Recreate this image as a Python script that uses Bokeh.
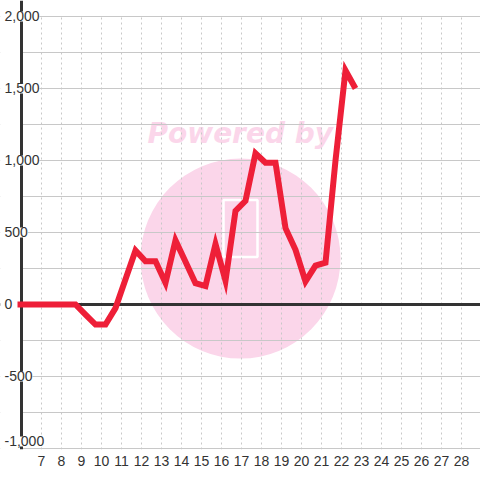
from bokeh.plotting import figure
from bokeh.models import FixedTicker, Span, Label, Range1d, BoxAnnotation
from bokeh.embed import file_html
from bokeh.resources import INLINE

# ---- data ----
x_vals = [5.8, 6.2, 6.7, 7.2, 7.7, 8.2, 8.7, 9.2, 9.7, 10.2, 10.7, 11.2, 11.7,
          12.2, 12.7, 13.2, 13.7, 14.2, 14.7, 15.2, 15.7, 16.2, 16.7, 17.2,
          17.7, 18.2, 18.7, 19.2, 19.7, 20.2, 20.7, 21.2, 21.7, 22.2, 22.7]
y_vals = [0, 0, 0, 0, 0, 0, 0, -70, -139, -139, -25, 175, 375,
          300, 300, 150, 445, 297, 148, 128, 420, 165, 650, 720,
          1050, 985, 985, 530, 380, 160, 270, 290, 1000, 1625, 1500]
x_ticks = list(range(7, 29))
y_ticks = [-1000, -500, 0, 500, 1000, 1500, 2000]
y_tick_labels = ["-1,000", "-500", "0", "500", "1,000", "1,500", "2,000"]
y_grid_ticks = [-1000, -750, -500, -250, 0, 250, 500, 750, 1000, 1250,
                1500, 1750, 2000]

FONT = "Liberation Sans"
AXIS_X = 6          # where the vertical axis sits
X0, X1 = 4.95, 28.95
Y0, Y1 = -1007.0, 2111.1

p = figure(width=480, height=480, output_backend="svg", toolbar_location=None,
           x_range=Range1d(X0, X1), y_range=Range1d(Y0, Y1),
           y_axis_location=None, min_border_left=0, min_border_right=0,
           min_border_top=0, min_border_bottom=31)
p.background_fill_color = "#ffffff"
p.border_fill_color = "#ffffff"
p.outline_line_color = None

# grids
p.xgrid.ticker = FixedTicker(ticks=x_ticks)
p.xgrid.grid_line_color = "#c8c8c8"
p.xgrid.grid_line_dash = "2 3"
p.xgrid.grid_line_width = 1
p.ygrid.ticker = FixedTicker(ticks=y_grid_ticks)
p.ygrid.grid_line_color = "#c8c8c8"
p.ygrid.grid_line_width = 1

# x axis
p.xaxis.ticker = FixedTicker(ticks=x_ticks)
p.xaxis.axis_line_color = None
p.xaxis.major_tick_line_color = None
p.xaxis.minor_tick_line_color = None
p.xaxis.major_label_standoff = 0
p.xaxis.major_label_text_font = FONT
p.xaxis.major_label_text_font_size = "14px"
p.xaxis.major_label_text_color = "#333333"

# watermark
p.scatter(x=[16.95], y=[319], size=200, marker="circle",
          fill_color="#fbd6ea", line_color=None, level="image")
p.rect(x=[16.95], y=[528], width=1.7, height=396, fill_color=None,
       line_color="#ffffff", line_width=2.5, level="image")
wm = Label(x=12.3, y=1072, text="Powered by", text_font="DejaVu Sans",
           text_font_style="bold italic", text_font_size="28px",
           text_color="#fbd6ea", level="image")
p.add_layout(wm)

# zero line
p.add_layout(Span(location=0, dimension="width", line_color="#333333",
                  line_width=3, level="underlay"))
# blank out the area left of the axis and above the top grid line
p.add_layout(BoxAnnotation(left=X0, right=AXIS_X, fill_color="#ffffff",
                           fill_alpha=1, line_color=None, level="underlay"))
p.add_layout(BoxAnnotation(bottom=2007, fill_color="#ffffff",
                           fill_alpha=1, line_color=None, level="underlay"))
# y axis line
p.add_layout(Span(location=AXIS_X, dimension="height", line_color="#333333",
                  line_width=3, level="underlay"))

# series
p.line(x_vals, y_vals, line_color="#ee1f38", line_width=6,
       line_join="miter")

# y tick labels drawn over the axis
for yv, txt in zip(y_ticks, y_tick_labels):
    p.add_layout(Label(x=AXIS_X, y=yv, text=txt, x_offset=-17,
                       y_offset=7 if yv == y_ticks[0] else 0,
                       text_align="left", text_baseline="middle",
                       text_font=FONT, text_font_size="14px",
                       text_color="#333333",
                       background_fill_color="#ffffff"))

open("out.html", "w").write(file_html(p, INLINE))
